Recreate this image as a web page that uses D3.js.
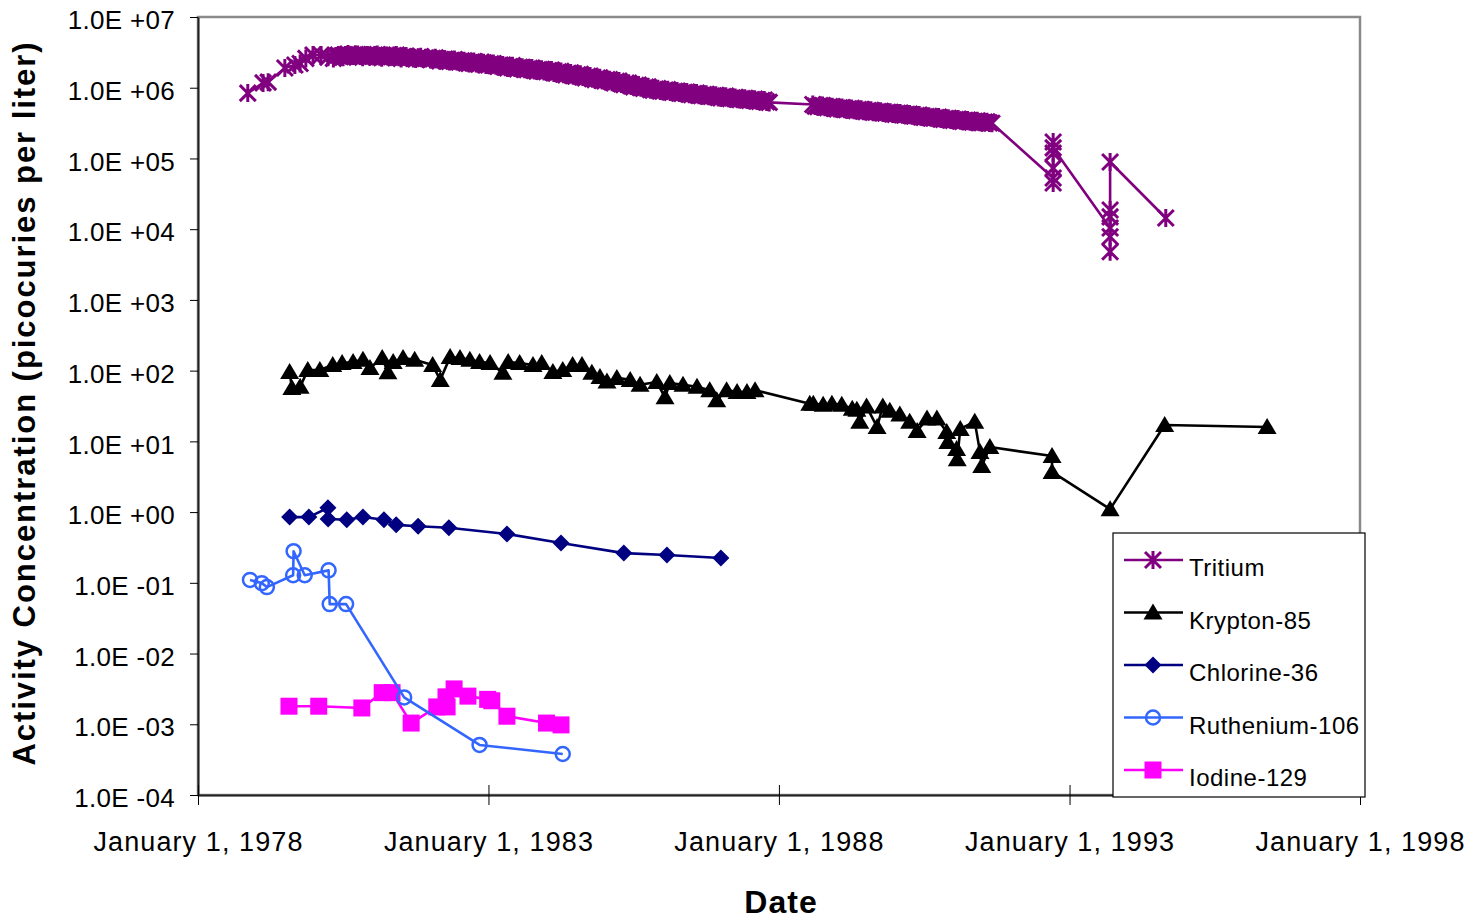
<!DOCTYPE html>
<html><head><meta charset="utf-8">
<script src="https://cdn.jsdelivr.net/npm/d3@7"></script>
<style>
body{margin:0;background:#fff}
svg{display:block}
text{font-family:"Liberation Sans",Arial,sans-serif}
</style>
</head><body>
<svg id="c" width="1471" height="921"></svg>
<script>
// ---------- DATA ----------
const seriesNames = ["Tritium","Krypton-85","Chlorine-36","Ruthenium-106","Iodine-129"];
const xTickDates = ["1978-01-01","1983-01-01","1988-01-01","1993-01-01","1998-01-01"];
const yTickExponents = [7,6,5,4,3,2,1,0,-1,-2,-3,-4];

const tritium = [
 ["1978-11-10",8.4e5],["1979-02-14",1.17e6],["1979-03-18",1.2e6],["1979-07-01",1.9e6],["1979-09-02",2.1e6],
 ["1979-10-05",2.2e6],["1979-11-10",2.6e6],["1979-12-25",2.9e6],["1980-02-14",2.9e6],["1980-03-28",2.7e6],
 ["1980-05",2.6e6],["1980-06",2.9e6],["1980-07",2.7e6],["1980-08",3.0e6],["1980-09",2.8e6],["1980-10",2.95e6],["1980-11",2.7e6],["1980-12",2.9e6],
 ["1981-01",2.8e6],["1981-02",2.95e6],["1981-03",2.65e6],["1981-04",2.85e6],["1981-05",2.75e6],["1981-06",2.9e6],
 ["1981-07",2.6e6],["1981-08",2.8e6],["1981-09",2.7e6],["1981-10",2.55e6],["1981-11",2.75e6],["1981-12",2.6e6],
 ["1982-01",2.5e6],["1982-02",2.65e6],["1982-03",2.4e6],["1982-04",2.55e6],["1982-05",2.35e6],["1982-06",2.5e6],
 ["1982-07",2.3e6],["1982-08",2.4e6],["1982-09",2.2e6],["1982-10",2.35e6],["1982-11",2.15e6],["1982-12",2.25e6],
 ["1983-01",2.1e6],["1983-02",2.2e6],["1983-03",2.0e6],["1983-04",2.1e6],["1983-05",1.9e6],["1983-06",2.05e6],
 ["1983-07",1.85e6],["1983-08",1.95e6],["1983-09",1.8e6],["1983-10",1.9e6],["1983-11",1.72e6],["1983-12",1.82e6],
 ["1984-01",1.68e6],["1984-02",1.78e6],["1984-03",1.6e6],["1984-04",1.7e6],["1984-05",1.52e6],["1984-06",1.62e6],
 ["1984-07",1.45e6],["1984-08",1.55e6],["1984-09",1.38e6],["1984-10",1.46e6],["1984-11",1.3e6],["1984-12",1.38e6],
 ["1985-01",1.25e6],["1985-02",1.3e6],["1985-03",1.17e6],["1985-04",1.24e6],["1985-05",1.1e6],["1985-06",1.16e6],
 ["1985-07",1.03e6],["1985-08",1.09e6],["1985-09",9.8e5],["1985-10",1.03e6],["1985-11",9.2e5],["1985-12",9.7e5],
 ["1986-01",8.9e5],["1986-02",9.4e5],["1986-03",8.6e5],["1986-04",9.0e5],["1986-05",8.3e5],["1986-06",8.7e5],
 ["1986-07",8.0e5],["1986-08",8.4e5],["1986-09",7.7e5],["1986-10",8.1e5],["1986-11",7.5e5],["1986-12",7.8e5],
 ["1987-01",7.2e5],["1987-02",7.6e5],["1987-03",7.0e5],["1987-04",7.3e5],["1987-05",6.8e5],["1987-06",7.1e5],
 ["1987-07",6.6e5],["1987-08",6.9e5],["1987-09",6.4e5],["1987-10",6.7e5],["1987-11",6.2e5],
 ["1988-08",5.8e5],["1988-09",5.4e5],["1988-10",5.6e5],["1988-11",5.2e5],["1988-12",5.4e5],
 ["1989-01",5.0e5],["1989-02",5.25e5],["1989-03",4.9e5],["1989-04",5.1e5],["1989-05",4.75e5],["1989-06",4.95e5],
 ["1989-07",4.6e5],["1989-08",4.8e5],["1989-09",4.5e5],["1989-10",4.65e5],["1989-11",4.35e5],["1989-12",4.5e5],
 ["1990-01",4.2e5],["1990-02",4.4e5],["1990-03",4.1e5],["1990-04",4.25e5],["1990-05",3.95e5],["1990-06",4.1e5],
 ["1990-07",3.8e5],["1990-08",3.95e5],["1990-09",3.7e5],["1990-10",3.85e5],["1990-11",3.55e5],["1990-12",3.7e5],
 ["1991-01",3.45e5],["1991-02",3.6e5],["1991-03",3.35e5],["1991-04",3.5e5],["1991-05",3.25e5],["1991-06",3.4e5],
 ["1991-07",3.2e5],["1991-08",3.3e5],["1991-09",3.15e5],
 ["1992-09-20",5.3e4],["1992-09-20",4.5e4],["1992-09-20",7.3e4],["1992-09-20",1.71e5],["1992-09-20",1.19e5],["1992-09-20",1.41e5],
 ["1993-09-13",1.04e4],["1993-09-13",4.8e3],["1993-09-13",7.8e3],["1993-09-13",1.49e4],["1993-09-13",1.87e4],["1993-09-13",8.9e4],
 ["1994-08-29",1.44e4]
];

// mid-month tritium samples
const tritiumMid = [
 ["1980-05-16",2.8e6],["1980-06-16",2.75e6],["1980-07-16",2.9e6],["1980-08-16",2.85e6],["1980-09-16",2.95e6],["1980-10-16",2.8e6],
 ["1980-11-16",2.85e6],["1980-12-16",2.75e6],["1981-01-16",2.9e6],["1981-02-16",2.75e6],["1981-03-16",2.8e6],["1981-04-16",2.7e6],
 ["1981-05-16",2.85e6],["1981-06-16",2.7e6],["1981-07-16",2.75e6],["1981-08-16",2.65e6],["1981-09-16",2.6e6],["1981-10-16",2.7e6],
 ["1981-11-16",2.55e6],["1981-12-16",2.65e6],["1982-01-16",2.6e6],["1982-02-16",2.5e6],["1982-03-16",2.5e6],["1982-04-16",2.4e6],
 ["1982-05-16",2.45e6],["1982-06-16",2.35e6],["1982-07-16",2.4e6],["1982-08-16",2.25e6],["1982-09-16",2.3e6],["1982-10-16",2.2e6],
 ["1982-11-16",2.3e6],["1982-12-16",2.1e6],["1983-01-16",2.18e6],["1983-02-16",2.05e6],["1983-03-16",2.1e6],["1983-04-16",1.95e6],
 ["1983-05-16",2.0e6],["1983-06-16",1.9e6],["1983-07-16",1.95e6],["1983-08-16",1.82e6],["1983-09-16",1.88e6],["1983-10-16",1.75e6],
 ["1983-11-16",1.8e6],["1983-12-16",1.7e6],["1984-01-16",1.75e6],["1984-02-16",1.62e6],["1984-03-16",1.68e6],["1984-04-16",1.55e6],
 ["1984-05-16",1.6e6],["1984-06-16",1.48e6],["1984-07-16",1.52e6],["1984-08-16",1.42e6],["1984-09-16",1.45e6],["1984-10-16",1.34e6],
 ["1984-11-16",1.37e6],["1984-12-16",1.27e6],["1985-01-16",1.3e6],["1985-02-16",1.2e6],["1985-03-16",1.23e6],["1985-04-16",1.13e6],
 ["1985-05-16",1.16e6],["1985-06-16",1.06e6],["1985-07-16",1.08e6],["1985-08-16",1.0e6],["1985-09-16",1.02e6],["1985-10-16",9.4e5],
 ["1985-11-16",9.6e5],["1985-12-16",9.0e5],["1986-01-16",9.3e5],["1986-02-16",8.7e5],["1986-03-16",8.9e5],["1986-04-16",8.4e5],
 ["1986-05-16",8.6e5],["1986-06-16",8.1e5],["1986-07-16",8.3e5],["1986-08-16",7.8e5],["1986-09-16",8.0e5],["1986-10-16",7.6e5],
 ["1986-11-16",7.7e5],["1986-12-16",7.3e5],["1987-01-16",7.5e5],["1987-02-16",7.1e5],["1987-03-16",7.2e5],["1987-04-16",6.9e5],
 ["1987-05-16",7.0e5],["1987-06-16",6.7e5],["1987-07-16",6.8e5],["1987-08-16",6.5e5],["1987-09-16",6.6e5],["1987-10-16",6.3e5],
 ["1988-08-16",5.5e5],["1988-09-16",5.6e5],["1988-10-16",5.3e5],["1988-11-16",5.4e5],["1988-12-16",5.1e5],["1989-01-16",5.2e5],
 ["1989-02-16",4.95e5],["1989-03-16",5.05e5],["1989-04-16",4.8e5],["1989-05-16",4.9e5],["1989-06-16",4.65e5],["1989-07-16",4.75e5],
 ["1989-08-16",4.5e5],["1989-09-16",4.6e5],["1989-10-16",4.4e5],["1989-11-16",4.5e5],["1989-12-16",4.25e5],["1990-01-16",4.35e5],
 ["1990-02-16",4.15e5],["1990-03-16",4.2e5],["1990-04-16",4.0e5],["1990-05-16",4.05e5],["1990-06-16",3.85e5],["1990-07-16",3.9e5],
 ["1990-08-16",3.75e5],["1990-09-16",3.8e5],["1990-10-16",3.6e5],["1990-11-16",3.65e5],["1990-12-16",3.5e5],["1991-01-16",3.55e5],
 ["1991-02-16",3.4e5],["1991-03-16",3.45e5],["1991-04-16",3.3e5],["1991-05-16",3.35e5],["1991-06-16",3.25e5],["1991-07-16",3.28e5],
 ["1991-08-16",3.18e5]
];

const krypton = [
 ["1979-07-31",96],["1979-08-14",57],["1979-10-05",59],["1979-11-22",102],["1980-02-06",102],["1980-04-27",120],
 ["1980-06-25",128],["1980-09-02",132],["1980-11-03",142],["1980-12-17",109],["1981-03-04",151],["1981-04-09",95],
 ["1981-05-12",132],["1981-07-13",151],["1981-09-24",142],["1982-01-15",120],["1982-03-04",74],["1982-05-05",156],
 ["1982-07-06",151],["1982-09-06",142],["1982-11-06",132],["1983-01-11",128],["1983-04-02",93],["1983-05-05",132],
 ["1983-07-16",128],["1983-10-08",120],["1983-12-02",128],["1984-02-10",96],["1984-04-12",102],["1984-06-13",120],
 ["1984-08-11",120],["1984-10-12",93],["1984-12-02",81],["1985-01-15",70],["1985-03-18",79],["1985-06-10",74],
 ["1985-08-11",63],["1985-11-24",69],["1986-01-15",42],["1986-02-14",67],["1986-05-08",63],["1986-08-04",59],
 ["1986-10-23",53],["1986-12-06",38],["1987-02-06",53],["1987-04-13",50],["1987-06-14",50],["1987-08-04",53],
 ["1988-07-13",34],["1988-08-04",34],["1988-10-05",33],["1988-11-29",34],["1989-01-30",33],["1989-04-06",29],
 ["1989-05-05",28],["1989-05-23",19],["1989-07-05",31],["1989-09-09",16],["1989-10-15",31],["1989-11-28",27],
 ["1990-01-30",24],["1990-04-02",19],["1990-05-19",14],["1990-07-20",21],["1990-09-20",21],["1990-11-21",13.6],
 ["1990-11-28",9.8],["1991-01-22",7.8],["1991-01-26",5.6],["1991-02-14",15],["1991-05-16",19],["1991-06-18",7.1],
 ["1991-06-29",4.5],["1991-08-19",8.3],["1992-09-13",6.2],["1992-09-13",3.7],["1993-09-13",1.1],
 ["1994-08-22",17],["1996-05-27",16]
];

const chlorine = [
 ["1979-07-31",0.85],["1979-11-29",0.85],["1980-03-28",1.15],["1980-03-29",0.80],["1980-07-24",0.78],
 ["1980-11-03",0.85],["1981-03-15",0.78],["1981-05-31",0.66],["1981-10-16",0.63],["1982-04-27",0.6],
 ["1983-04-27",0.49],["1984-04-01",0.365],["1985-05-01",0.263],["1986-01-27",0.247],["1987-01-01",0.224]
];

const ruthenium = [
 ["1978-11-24",0.11],["1979-02-06",0.099],["1979-03-10",0.087],["1979-08-22",0.128],["1979-08-25",0.28],
 ["1979-11-03",0.128],["1980-04-01",0.15],["1980-04-08",0.05],["1980-07-20",0.05],["1981-07-20",0.0024],
 ["1982-11-06",0.00051],["1984-04-12",0.00038]
];

const iodine = [
 ["1979-07-27",1.8e-3],["1980-01-30",1.8e-3],["1980-10-27",1.7e-3],["1981-03-04",2.8e-3],["1981-05-05",2.8e-3],
 ["1981-09-02",1.04e-3],["1982-02-10",1.76e-3],["1982-04-09",2.44e-3],["1982-04-16",1.76e-3],["1982-05-30",3.16e-3],
 ["1982-08-25",2.5e-3],["1982-12-27",2.25e-3],["1983-01-22",2.15e-3],["1983-04-27",1.3e-3],["1984-01-01",1.04e-3],
 ["1984-04-01",0.98e-3]
];

// ---------- CHART ----------
const svg = d3.select("#c");
const x = d3.scaleUtc().domain([new Date(xTickDates[0]), new Date(xTickDates[xTickDates.length-1])]).range([198,1360]);
const y = d3.scaleLog().domain([1e-4,1e7]).range([795,17]);
const [x0,x1] = x.range(), [yb,yt] = y.range();

// merge tritium samples in date order (stable sort keeps same-day order)
const tritiumAll = tritium.concat(tritiumMid).sort((a,b)=>new Date(a[0]) - new Date(b[0]));

const series = [
  {name:seriesNames[0], data:tritiumAll, color:"#800080", marker:"star"},
  {name:seriesNames[1], data:krypton, color:"#000000", marker:"tri"},
  {name:seriesNames[2], data:chlorine, color:"#000080", marker:"diamond"},
  {name:seriesNames[4], data:iodine, color:"#FF00FF", marker:"square"},
  {name:seriesNames[3], data:ruthenium, color:"#3366FF", marker:"circle"}
];
const legendOrder = [0,1,2,4,3];

// plot border
svg.append("rect").attr("x",x0).attr("y",yt).attr("width",x1-x0).attr("height",yb-yt)
  .attr("fill","none").attr("stroke","#8a8a8a").attr("stroke-width",2.5);

// y axis
const fmtY = d => { const e = Math.round(Math.log10(d)); return "1.0E " + (e>=0?"+":"-") + String(Math.abs(e)).padStart(2,"0"); };
const gy = svg.append("g").attr("transform",`translate(${x0},0)`)
  .call(d3.axisLeft(y).tickValues(yTickExponents.map(e=>Math.pow(10,e))).tickFormat(fmtY).tickSize(8).tickPadding(15).tickSizeOuter(0));
gy.select(".domain").attr("stroke","#222").attr("stroke-width",2);
gy.selectAll(".tick line").attr("stroke","#000");
gy.selectAll(".tick text").attr("font-size",26).attr("fill","#000").attr("dy","0.45em")
  .attr("font-family","'Liberation Sans',Arial,sans-serif").attr("letter-spacing",0.3);

// x axis
const gx = svg.append("g").attr("transform",`translate(0,${yb})`)
  .call(d3.axisBottom(x).tickValues(xTickDates.map(s=>new Date(s))).tickFormat(d=>"January 1, "+d.getUTCFullYear()).tickSize(10).tickSizeOuter(0));
gx.select(".domain").attr("stroke","#222").attr("stroke-width",2);
gx.selectAll(".tick line").attr("y1",-10).attr("stroke","#000");
gx.selectAll(".tick text").attr("font-size",27).attr("fill","#000").attr("y",37).attr("letter-spacing",1.1).attr("font-family","'Liberation Sans',Arial,sans-serif");

// axis titles
svg.append("text").attr("transform",`translate(35,403) rotate(-90)`).attr("text-anchor","middle")
  .attr("font-size",31).attr("font-weight","bold").attr("letter-spacing",1.95).text("Activity Concentration (picocuries per liter)");
svg.append("text").attr("x",(x0+x1)/2 + 2).attr("y",913).attr("text-anchor","middle")
  .attr("font-size",32).attr("font-weight","bold").attr("letter-spacing",1).text("Date");

// markers
function drawMarker(g, type, color){
  if(type==="star"){
    g.append("path").attr("d","M0,-9V9M-8,-8L8,8M-8,8L8,-8").attr("stroke",color).attr("stroke-width",3).attr("fill","none");
  } else if(type==="tri"){
    g.append("path").attr("d","M0,-9L9.5,7L-9.5,7Z").attr("fill",color);
  } else if(type==="diamond"){
    g.append("path").attr("d","M0,-8.5L8.5,0L0,8.5L-8.5,0Z").attr("fill",color);
  } else if(type==="square"){
    g.append("rect").attr("x",-8.5).attr("y",-8.5).attr("width",17).attr("height",17).attr("fill",color);
  } else if(type==="circle"){
    g.append("circle").attr("r",7).attr("fill","none").attr("stroke",color).attr("stroke-width",2.5);
  }
}

const line = d3.line().x(d=>x(new Date(d[0]))).y(d=>y(d[1]));
series.forEach(s=>{
  const g = svg.append("g");
  g.append("path").datum(s.data).attr("d",line).attr("fill","none").attr("stroke",s.color).attr("stroke-width",2.6).attr("stroke-linejoin","round");
  g.selectAll("g.m").data(s.data).join("g").attr("class","m")
    .attr("transform",d=>`translate(${x(new Date(d[0]))},${y(d[1])})`)
    .each(function(){ drawMarker(d3.select(this), s.marker, s.color); });
});

// legend
const lg = svg.append("g").attr("transform","translate(1113,533)");
lg.append("rect").attr("width",252).attr("height",264).attr("fill","#fff").attr("stroke","#000").attr("stroke-width",1.2);
legendOrder.forEach((si,i)=>{
  const s = series[si];
  const it = lg.append("g").attr("transform",`translate(0,${27+i*52.5})`);
  it.append("line").attr("x1",11).attr("x2",70).attr("stroke",s.color).attr("stroke-width",2.5);
  drawMarker(it.append("g").attr("transform","translate(40,0)"), s.marker, s.color);
  it.append("text").attr("x",76).attr("y",16).attr("font-size",24).attr("fill","#000").attr("letter-spacing",0.5).text(s.name);
});
</script>
</body></html>
